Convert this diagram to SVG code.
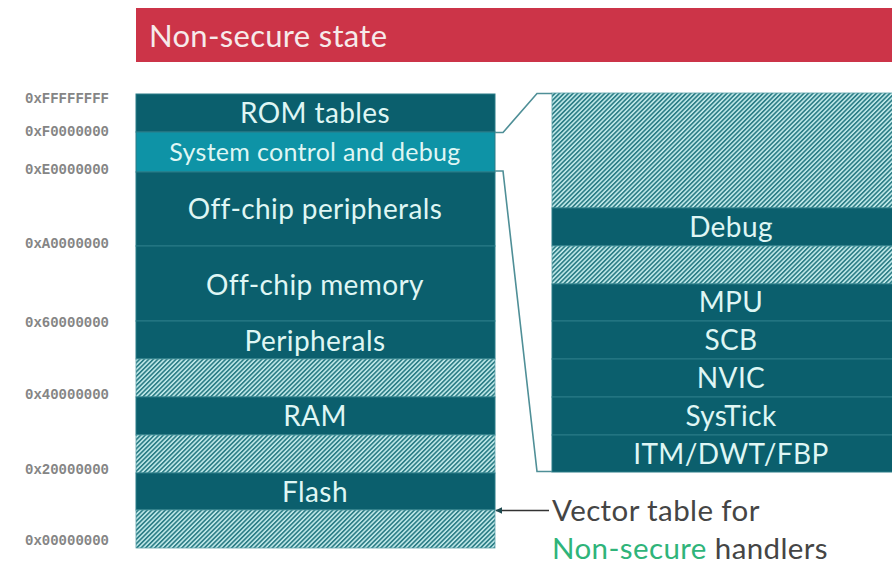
<svg xmlns="http://www.w3.org/2000/svg" width="892" height="564" viewBox="0 0 892 564">
<defs>
<pattern id="hatch" patternUnits="userSpaceOnUse" width="3.2" height="10" patternTransform="rotate(45)">
<rect x="0" y="0" width="3.2" height="10" fill="#c4ecec"/>
<rect x="0" y="0" width="1.7" height="10" fill="#2f7f88"/>
</pattern>
<marker id="arr" viewBox="0 0 10 10" refX="9" refY="5" markerWidth="7" markerHeight="7" orient="auto-start-reverse" markerUnits="userSpaceOnUse">
<path d="M0,0 L10,5 L0,10 z" fill="#1f4a50"/>
</marker>
</defs>
<style>
.blk{fill:#0b5f6d;stroke:#2a7d88;stroke-width:1}
.lt{fill:#0e93a6;stroke:#2a7d88;stroke-width:1}
.ht{fill:url(#hatch);stroke:#5aa0a8;stroke-width:0.8}
.lbl{font-family:Lato,"Open Sans","Liberation Sans",sans-serif;fill:#dff6f4;text-anchor:middle;font-size:28px;letter-spacing:0.4px}
.lbl.sm{font-size:25px;letter-spacing:0.3px}
.addr{font-family:"Liberation Mono","DejaVu Sans Mono",monospace;font-weight:bold;font-size:14px;fill:#858585}
.conn{fill:none;stroke:#4f8f97;stroke-width:1.6}
.note{font-family:Lato,"Open Sans","Liberation Sans",sans-serif;font-size:29.5px;fill:#454545;letter-spacing:0.4px}
</style>

<g id="header">
<rect x="136" y="8" width="756" height="54" fill="#cc3448"/>
<text x="149" y="47" font-family="Lato,'Open Sans','Liberation Sans',sans-serif" font-size="31" letter-spacing="0.3" fill="#f6eaea">Non-secure state</text>
</g>

<g id="addresses">
<text class="addr" x="25" y="103">0xFFFFFFFF</text>
<text class="addr" x="25" y="136">0xF0000000</text>
<text class="addr" x="25" y="174">0xE0000000</text>
<text class="addr" x="25" y="248">0xA0000000</text>
<text class="addr" x="25" y="327">0x60000000</text>
<text class="addr" x="25" y="399">0x40000000</text>
<text class="addr" x="25" y="474">0x20000000</text>
<text class="addr" x="25" y="545">0x00000000</text>
</g>

<g id="rom"><rect class="blk" x="136" y="94" width="359" height="38"/><text class="lbl" x="315" y="123">ROM tables</text></g>
<g id="syscontrol"><rect class="lt" x="136" y="132" width="359" height="40"/><text class="lbl sm" x="315" y="161">System control and debug</text></g>
<g id="offchip-periph"><rect class="blk" x="136" y="172" width="359" height="74"/><text class="lbl" x="315" y="219">Off-chip peripherals</text></g>
<g id="offchip-mem"><rect class="blk" x="136" y="246" width="359" height="75"/><text class="lbl" x="315" y="295">Off-chip memory</text></g>
<g id="peripherals"><rect class="blk" x="136" y="321" width="359" height="38"/><text class="lbl" x="315" y="351">Peripherals</text></g>
<g id="res1"><rect class="ht" x="136" y="359" width="359" height="38"/></g>
<g id="ram"><rect class="blk" x="136" y="397" width="359" height="38"/><text class="lbl" x="315" y="426">RAM</text></g>
<g id="res2"><rect class="ht" x="136" y="435" width="359" height="38"/></g>
<g id="flash"><rect class="blk" x="136" y="473" width="359" height="37"/><text class="lbl" x="315" y="502">Flash</text></g>
<g id="res3"><rect class="ht" x="136" y="510" width="359" height="38"/></g>

<g id="r-res1"><rect class="ht" x="552" y="93" width="345" height="115"/></g>
<g id="debug"><rect class="blk" x="552" y="208" width="345" height="38"/><text class="lbl" x="731" y="237">Debug</text></g>
<g id="r-res2"><rect class="ht" x="552" y="246" width="345" height="38"/></g>
<g id="mpu"><rect class="blk" x="552" y="284" width="345" height="37"/><text class="lbl" x="731" y="312">MPU</text></g>
<g id="scb"><rect class="blk" x="552" y="321" width="345" height="38"/><text class="lbl" x="731" y="350">SCB</text></g>
<g id="nvic"><rect class="blk" x="552" y="359" width="345" height="38"/><text class="lbl" x="731" y="388">NVIC</text></g>
<g id="systick"><rect class="blk" x="552" y="397" width="345" height="38"/><text class="lbl" x="731" y="426">SysTick</text></g>
<g id="itm"><rect class="blk" x="552" y="435" width="345" height="37"/><text class="lbl" x="731" y="464">ITM/DWT/FBP</text></g>

<g id="connectors">
<path class="conn" d="M495,132.5 L503,132.5 L537,93.5 L552,93.5"/>
<path class="conn" d="M495,171 L503,171 L537,471.5 L552,471.5"/>
<line x1="549" y1="510.5" x2="496" y2="510.5" stroke="#333" stroke-width="1.3" marker-end="url(#arr)"/>
</g>

<g id="note">
<text class="note" x="552" y="521">Vector table for</text>
<text class="note" x="552" y="559"><tspan fill="#2fb47a">Non-secure</tspan> handlers</text>
</g>
</svg>
